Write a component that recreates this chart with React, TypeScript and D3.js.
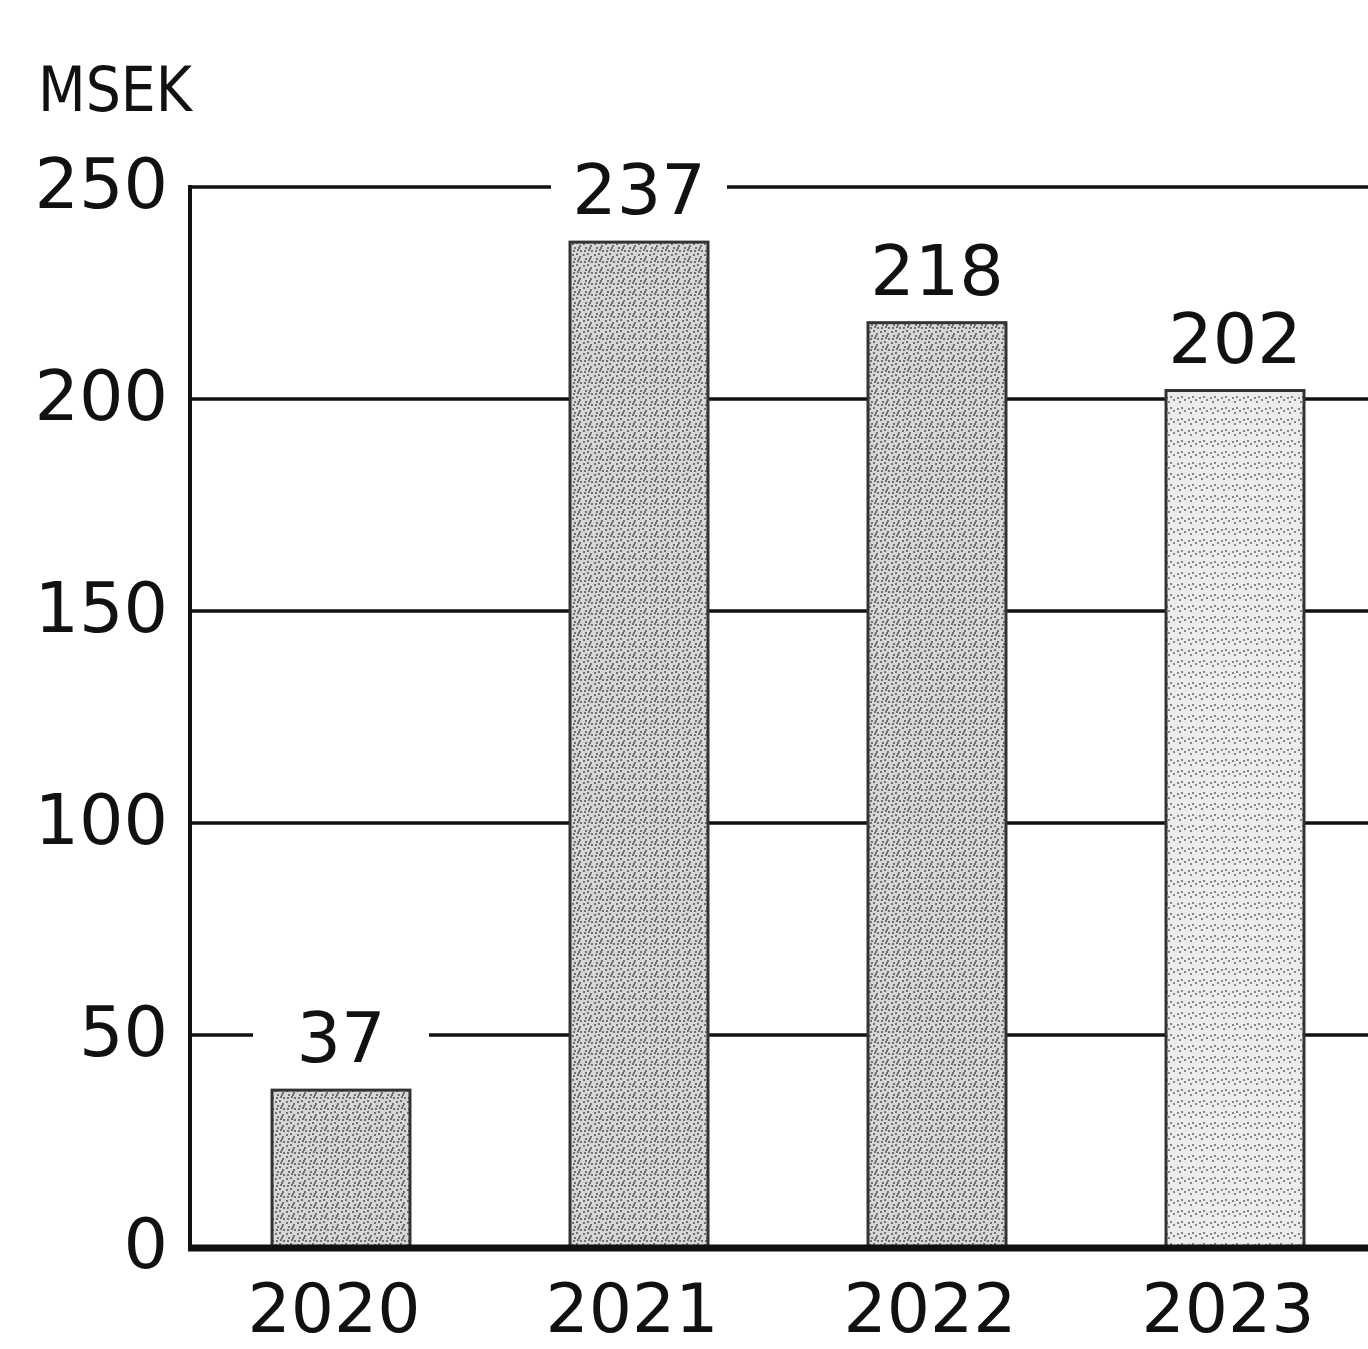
import * as d3 from 'd3';
import React from 'react';

const years = ['2020', '2021', '2022', '2023'];
const values = [37, 237, 218, 202];
const yTicks = [0, 50, 100, 150, 200, 250];
const unitLabel = 'MSEK';

const W = 1368;
const H = 1349;
const font = '"DejaVu Sans", Verdana, sans-serif';

const App = () => {
  const x = d3
    .scaleBand<string>()
    .domain(years)
    .range([192, 1384])
    .paddingInner(0.537)
    .paddingOuter(0.2685);
  const y = d3.scaleLinear().domain([0, 250]).range([1247, 187]);

  // stipple dots for the scanned-looking bar fill
  const dots: [number, number][] = [
    [1, 2], [5, 1], [8, 4], [3, 6], [6, 8], [9, 9], [2, 9], [7, 6],
  ];

  return (
    <svg
      width={W}
      height={H}
      style={{ position: 'absolute', left: 0, top: 0, display: 'block', background: '#fff' }}
    >
      <defs>
        <pattern id="stipple" width={11} height={11} patternUnits="userSpaceOnUse">
          <rect width={11} height={11} fill="#d6d6d6" />
          {dots.map(([cx, cy], i) => (
            <circle key={i} cx={cx} cy={cy} r={0.95} fill="#444" />
          ))}
        </pattern>
        <pattern id="stippleLight" width={11} height={11} patternUnits="userSpaceOnUse">
          <rect width={11} height={11} fill="#ececec" />
          {dots.slice(0, 4).map(([cx, cy], i) => (
            <circle key={i} cx={cx} cy={cy} r={0.9} fill="#555" />
          ))}
        </pattern>
      </defs>

      {/* gridlines */}
      {yTicks.slice(1).map(t => (
        <line key={t} x1={190} x2={W} y1={y(t)} y2={y(t)} stroke="#111" strokeWidth={3.5} />
      ))}

      {/* y tick labels */}
      {yTicks.map(t => (
        <text
          key={t}
          x={168}
          y={y(t) + 21}
          textAnchor="end"
          fontFamily={font}
          fontSize={70}
          fill="#111"
        >
          {t}
        </text>
      ))}

      <text x={38} y={111} fontFamily={font} fontSize={62} fill="#111" textLength={154} lengthAdjust="spacingAndGlyphs">
        {unitLabel}
      </text>

      {/* bars */}
      {years.map((yr, i) => (
        <rect
          key={yr}
          x={x(yr)}
          y={y(values[i])}
          width={x.bandwidth()}
          height={y(0) - y(values[i])}
          fill={i === 3 ? 'url(#stippleLight)' : 'url(#stipple)'}
          stroke="#333"
          strokeWidth={3}
        />
      ))}

      {/* value labels with white backing */}
      {years.map((yr, i) => {
        const cx = (x(yr) ?? 0) + x.bandwidth() / 2;
        const by = y(values[i]) - 28;
        return (
          <g key={yr}>
            <rect x={cx - 88} y={by - 56} width={176} height={62} fill="#fff" />
            <text x={cx} y={by} textAnchor="middle" fontFamily={font} fontSize={70} fill="#111">
              {values[i]}
            </text>
          </g>
        );
      })}

      {/* axes */}
      <line x1={190} x2={190} y1={185} y2={1250} stroke="#111" strokeWidth={4} />
      <line x1={188} x2={W} y1={1248} y2={1248} stroke="#111" strokeWidth={7} />

      {/* x labels */}
      {years.map(yr => (
        <text
          key={yr}
          x={(x(yr) ?? 0) + x.bandwidth() / 2 - 7}
          y={1332}
          textAnchor="middle"
          fontFamily={font}
          fontSize={68}
          fill="#111"
        >
          {yr}
        </text>
      ))}
    </svg>
  );
};

export default App;
